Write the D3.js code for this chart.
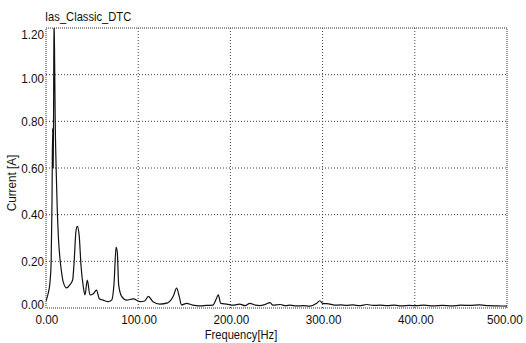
<!DOCTYPE html>
<html><head><meta charset="utf-8">
<script src="https://cdn.jsdelivr.net/npm/d3@7"></script>
<style>
body{margin:0;background:#fff;}
svg{display:block;}
text{font-family:"Liberation Sans",Arial,sans-serif;fill:#111;}
</style></head>
<body>
<svg id="chart" width="526" height="343"></svg>
<script>
const title = "Ias_Classic_DTC";
const xLabel = "Frequency[Hz]";
const yLabel = "Current [A]";
const xTicks = [0, 100, 200, 300, 400, 500];
const yTicks = [0, 0.2, 0.4, 0.6, 0.8, 1.0, 1.2];
const freq = [0, 2.2, 4.3, 5.6, 6.5, 7.2, 7.8, 8.3, 8.7, 9.5, 10, 11, 12, 13.5, 15.2, 17, 18.8, 22.5, 26, 28.9, 30.4, 32.5, 34, 36, 38, 40.5, 42.3, 44.8, 47.7, 51, 54.8, 57.8, 62, 67.5, 71.3, 73.8, 76, 77.3, 78.8, 82, 87.5, 94.7, 102, 107, 111, 116, 123.6, 132, 138, 141.7, 144.5, 147, 152.6, 159, 167, 174, 181, 185, 186.9, 189.5, 196, 203, 210, 216, 221, 227, 232, 237, 243, 246, 254, 260, 265, 272, 279, 286, 293.6, 297, 300, 308, 314, 319, 326, 333, 340, 348, 355, 362, 370, 378, 386, 394, 402, 410, 420, 430, 440, 450, 460, 470, 480, 490, 500];
const current = [0.03, 0.06, 0.11, 0.2, 0.45, 0.77, 0.6, 0.9, 1.25, 1.0, 0.8, 0.6, 0.45, 0.3, 0.21, 0.15, 0.11, 0.086, 0.1, 0.12, 0.19, 0.33, 0.35, 0.31, 0.18, 0.09, 0.056, 0.12, 0.056, 0.06, 0.077, 0.04, 0.034, 0.027, 0.034, 0.106, 0.26, 0.24, 0.1, 0.05, 0.034, 0.039, 0.027, 0.03, 0.05, 0.027, 0.017, 0.022, 0.05, 0.085, 0.05, 0.013, 0.02, 0.012, 0.009, 0.011, 0.012, 0.042, 0.056, 0.02, 0.017, 0.012, 0.017, 0.01, 0.02, 0.012, 0.01, 0.014, 0.023, 0.012, 0.015, 0.01, 0.012, 0.009, 0.01, 0.008, 0.02, 0.031, 0.02, 0.017, 0.012, 0.013, 0.011, 0.013, 0.01, 0.015, 0.011, 0.012, 0.01, 0.012, 0.009, 0.011, 0.01, 0.012, 0.009, 0.011, 0.009, 0.012, 0.011, 0.013, 0.01, 0.009, 0.008];

const svg = d3.select("#chart");
const L = 46, R = 507, T = 28, B = 308;
const x = d3.scaleLinear().domain([0, 500]).range([L, R]);
const y = d3.scaleLinear().domain([0, 1.2]).range([B, T]);
const SX = 0.9; // narrow glyphs

// grid
const g = svg.append("g");
g.selectAll("line.v").data(xTicks.slice(1, -1)).join("line")
  .attr("x1", d => x(d)).attr("x2", d => x(d)).attr("y1", T).attr("y2", B)
  .attr("stroke", "#444").attr("stroke-width", 1).attr("stroke-dasharray", "1,2");
g.selectAll("line.h").data(yTicks.slice(1, -1)).join("line")
  .attr("x1", L).attr("x2", R).attr("y1", d => y(d)).attr("y2", d => y(d))
  .attr("stroke", "#444").attr("stroke-width", 1).attr("stroke-dasharray", "1,2");
// frame
svg.append("rect").attr("x", L).attr("y", T).attr("width", R - L).attr("height", B - T)
  .attr("fill", "none").attr("stroke", "#333").attr("stroke-width", 1).attr("stroke-dasharray", "1,1");

svg.append("clipPath").attr("id", "clip").append("rect")
  .attr("x", L).attr("y", T).attr("width", R - L).attr("height", B - T);

const pts = freq.map((f, i) => [f, current[i]]);
svg.append("path").datum(pts)
  .attr("clip-path", "url(#clip)")
  .attr("fill", "none").attr("stroke", "#111").attr("stroke-width", 1.2)
  .attr("d", d3.line().x(d => x(d[0])).y(d => y(d[1])).curve(d3.curveMonotoneX));

const fmt = d3.format(".2f");
const yOff = d => d >= 1.19 ? 10.5 : (d >= 0.99 ? 8.5 : (d < 0.01 ? 0.5 : 4.5));
svg.selectAll("text.yt").data(yTicks).join("text")
  .attr("transform", d => `translate(${L - 2},${y(d) + yOff(d)}) scale(${SX},1)`)
  .attr("text-anchor", "end").attr("font-size", 13).text(d => fmt(d));
svg.selectAll("text.xt").data(xTicks).join("text")
  .attr("transform", d => `translate(${Math.min(x(d) + 1, 505)},324) scale(${SX},1)`)
  .attr("text-anchor", "middle").attr("font-size", 13).text(d => fmt(d));

svg.append("text").attr("transform", `translate(45,21) scale(0.86,1)`)
  .attr("font-size", 13).text(title);
svg.append("text").attr("transform", `translate(241,339) scale(0.86,1)`)
  .attr("text-anchor", "middle").attr("font-size", 13).text(xLabel);
svg.append("text").attr("transform", "translate(16,183) rotate(-90) scale(0.9,1)")
  .attr("text-anchor", "middle").attr("font-size", 13).text(yLabel);
</script>
</body></html>
